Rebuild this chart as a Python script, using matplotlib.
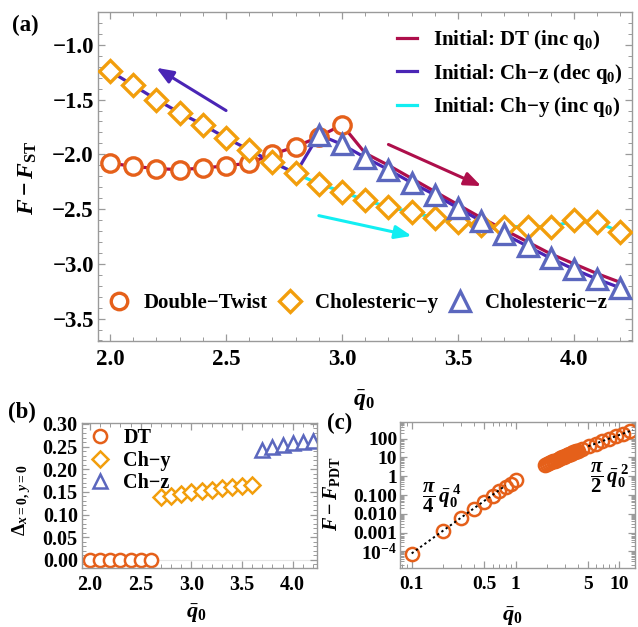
import numpy as np
import matplotlib
matplotlib.use("Agg")
import matplotlib.pyplot as plt
from matplotlib.ticker import MultipleLocator, FixedLocator, FixedFormatter, NullFormatter, LogLocator

plt.rcParams['font.family'] = ['Liberation Serif', 'DejaVu Serif']
plt.rcParams['font.weight'] = 'bold'
plt.rcParams['mathtext.fontset'] = 'custom'
plt.rcParams['mathtext.rm'] = 'Liberation Serif:bold'
plt.rcParams['mathtext.it'] = 'Liberation Serif:italic:bold'
plt.rcParams['mathtext.bf'] = 'Liberation Serif:bold'
plt.rcParams['mathtext.fallback'] = 'stix'

# ---------------- data: panel (a) ----------------
q_dt = [2.0, 2.1, 2.2, 2.3, 2.4, 2.5, 2.6, 2.7, 2.8, 2.9, 3.0]
f_dt = [-2.08, -2.11, -2.13, -2.14, -2.125, -2.105, -2.08, -2.00, -1.93, -1.84, -1.73]

q_chy = [2.0, 2.1, 2.2, 2.3, 2.4, 2.5, 2.6, 2.7, 2.8, 2.9, 3.0, 3.1, 3.2, 3.3,
         3.4, 3.5, 3.6, 3.7, 3.8, 3.9, 4.0, 4.1, 4.2]
f_chy = [-1.24, -1.37, -1.50, -1.62, -1.73, -1.85, -1.96, -2.07, -2.175, -2.27,
         -2.34, -2.42, -2.48, -2.53, -2.58, -2.62, -2.65, -2.66, -2.66, -2.66,
         -2.60, -2.62, -2.71]

q_chz = [2.9, 3.0, 3.1, 3.2, 3.3, 3.4, 3.5, 3.6, 3.7, 3.8, 3.9, 4.0, 4.1, 4.2]
f_chz = [-1.82, -1.91, -2.03, -2.14, -2.26, -2.37, -2.49, -2.61, -2.73, -2.84,
         -2.95, -3.05, -3.14, -3.22]

# hysteresis paths
q_path_dt = [2.0, 2.1, 2.2, 2.3, 2.4, 2.5, 2.6, 2.7, 2.8, 2.9, 3.0, 3.1, 3.2,
             3.3, 3.4, 3.5, 3.6, 3.7, 3.8, 3.9, 4.0, 4.1, 4.2]
f_path_dt = [-2.08, -2.11, -2.13, -2.14, -2.125, -2.105, -2.08, -2.00, -1.93,
             -1.84, -1.73, -1.99, -2.10, -2.22, -2.34, -2.46, -2.58, -2.69,
             -2.80, -2.91, -3.00, -3.09, -3.17]
q_path_chz = [2.0, 2.1, 2.2, 2.3, 2.4, 2.5, 2.6, 2.7, 2.8, 2.9, 3.0, 3.1, 3.2,
              3.3, 3.4, 3.5, 3.6, 3.7, 3.8, 3.9, 4.0, 4.1, 4.2]
f_path_chz = [-1.24, -1.37, -1.50, -1.62, -1.73, -1.85, -1.96, -2.07, -2.175,
              -1.82, -1.91, -2.03, -2.14, -2.26, -2.37, -2.49, -2.61, -2.73,
              -2.84, -2.95, -3.05, -3.14, -3.22]
q_path_chy = [2.7, 2.8, 2.9, 3.0, 3.1, 3.2, 3.3, 3.4, 3.5, 3.6, 3.7, 3.8, 3.9,
              4.0, 4.1, 4.2]
f_path_chy = [-2.07, -2.175, -2.27, -2.34, -2.42, -2.48, -2.53, -2.58, -2.62,
              -2.65, -2.66, -2.66, -2.66, -2.61, -2.62, -2.71]

legend_lines = ['Initial: DT (inc q$_0$)', 'Initial: Ch\u2212z (dec q$_0$)',
                'Initial: Ch\u2212y (inc q$_0$)']
legend_marks = ['Double\u2212Twist', 'Cholesteric\u2212y', 'Cholesteric\u2212z']

# arrows (tail -> head) in data coords
arrows = [((2.50, -1.60), (2.20, -1.21)),
          ((3.20, -1.91), (3.60, -2.29)),
          ((2.90, -2.56), (3.30, -2.745))]

# ---------------- data: panel (b) ----------------
qb_dt = [2.0, 2.1, 2.2, 2.3, 2.4, 2.5, 2.6]
db_dt = [0.0, 0.0, 0.0, 0.0, 0.0, 0.0, 0.0]
qb_chy = [2.7, 2.8, 2.9, 3.0, 3.1, 3.2, 3.3, 3.4, 3.5, 3.6]
db_chy = [0.139, 0.142, 0.146, 0.149, 0.152, 0.155, 0.158, 0.160, 0.162, 0.166]
qb_chz = [3.7, 3.8, 3.9, 4.0, 4.1, 4.2]
db_chz = [0.243, 0.250, 0.254, 0.257, 0.260, 0.262]
legend_b = ['DT', 'Ch\u2212y', 'Ch\u2212z']

# ---------------- data: panel (c) ----------------
qc_small = [0.1, 0.2, 0.3, 0.4, 0.5, 0.6, 0.7, 0.8, 0.9, 1.0]
fc_small = [7.0e-5, 1.2e-3, 6.0e-3, 0.019, 0.045, 0.09, 0.16, 0.26, 0.40, 0.60]
qc_large = [1.9, 2.0, 2.1, 2.2, 2.3, 2.4, 2.5, 2.6, 2.7, 2.8, 2.9, 3.0, 3.1,
            3.2, 3.3, 3.4, 3.5, 3.6, 3.7, 3.8, 3.9, 4.0, 4.4, 5.1, 5.9, 6.8,
            7.9, 9.2, 10.8, 12.6]
fc_large = [3.7, 4.2, 4.8, 5.4, 6.1, 6.8, 7.6, 8.4, 9.2, 10.1, 11.0, 11.9,
            12.8, 13.8, 14.9, 16.0, 17.1, 18.3, 19.4, 20.6, 21.8, 23.1, 28.0,
            38.0, 52.0, 70.0, 95.0, 130.0, 180.0, 247.0]
asym_small_q = [0.1, 0.8]
asym_small_f = [7.85e-5, 0.32]
asym_large_q = [5.0, 13.5]
asym_large_f = [39.0, 286.0]

# ---------------- colours ----------------
C_DT = '#E5601A'
C_CHY = '#F29E0C'
C_CHZ = '#5B67BE'
L_DT = '#AE0F4B'
L_CHZ = '#4A25B5'
L_CHY = '#12EEF2'
SPINE = '#9A9A9A'

W, H = 638, 627
fig = plt.figure(figsize=(W / 100, H / 100), dpi=100)


def px_axes(l, t, r, b):
    return fig.add_axes([l / W, 1 - b / H, (r - l) / W, (b - t) / H])


def px_text(x, y, s, **kw):
    return fig.text(x / W, 1 - y / H, s, ha='center', va='center', **kw)


def style(ax, size):
    for s in ax.spines.values():
        s.set_color(SPINE)
        s.set_linewidth(1.0)
    ax.tick_params(which='both', direction='in', top=True, right=True,
                   color=SPINE, labelsize=size)
    ax.tick_params(which='major', length=5, width=0.9)
    ax.tick_params(which='minor', length=2.8, width=0.7)


# ---------------- panel (a) ----------------
ax = px_axes(98, 12, 632, 341)
style(ax, 16.5)
ax.tick_params(axis='x', pad=6)
ax.tick_params(axis='y', pad=3)
h1, = ax.plot(q_path_dt, f_path_dt, color=L_DT, lw=2.3, zorder=2)
h2, = ax.plot(q_path_chz, f_path_chz, color=L_CHZ, lw=2.3, zorder=2)
h3, = ax.plot(q_path_chy, f_path_chy, color=L_CHY, lw=2.3, zorder=1.9)
m1, = ax.plot(q_dt, f_dt, 'o', ms=12.5, mfc='white', mec=C_DT, mew=2.4, ls='none', zorder=3)
m2, = ax.plot(q_chy, f_chy, 'D', ms=11.5, mfc='white', mec=C_CHY, mew=2.4, ls='none', zorder=3)
m3, = ax.plot(q_chz, f_chz, '^', ms=14.5, mfc='white', mec=C_CHZ, mew=2.4, ls='none', zorder=3)
for (t, hd), c in zip(arrows, [L_CHZ, L_DT, L_CHY]):
    ax.annotate('', xy=hd, xytext=t,
                arrowprops=dict(arrowstyle='-|>,head_length=1.0,head_width=0.4',
                                color=c, lw=2.2, shrinkA=0, shrinkB=0))
ax.set_xlim(1.948, 4.25)
ax.set_ylim(-3.705, -0.70)
ax.xaxis.set_major_locator(MultipleLocator(0.5))
ax.xaxis.set_minor_locator(MultipleLocator(0.1))
ax.yaxis.set_major_locator(MultipleLocator(0.5))
ax.yaxis.set_minor_locator(MultipleLocator(0.1))
ax.xaxis.set_major_formatter(plt.FormatStrFormatter('%.1f'))
ax.yaxis.set_major_formatter(plt.FuncFormatter(lambda v, p: ('%.1f' % v).replace('-', '\u2212')))
px_text(27.5, 178, r'$F-F_{\mathrm{ST}}$', fontsize=17, rotation=90)
px_text(364, 401, r'$\bar{q}_0$', fontsize=17)
leg1 = ax.legend([h1, h2, h3], legend_lines, loc='upper right',
                 bbox_to_anchor=(0.998, 0.976), frameon=False, fontsize=15,
                 handlelength=0.96, handletextpad=0.77, labelspacing=0.45,
                 borderaxespad=0)
ax.add_artist(leg1)
ax.legend([m1, m2, m3], legend_marks, loc='center left',
          bbox_to_anchor=(0.004, 0.115), frameon=False, fontsize=15, ncol=3,
          handlelength=1.0, handletextpad=0.7, columnspacing=0.55,
          borderaxespad=0, markerscale=0.95)
px_text(25, 25, '(a)', fontsize=16.5)

# ---------------- panel (b) ----------------
bx = px_axes(82, 423, 317, 568)
style(bx, 14.5)
bx.tick_params(axis='x', pad=5)
bx.tick_params(axis='y', pad=3)
bx.axhline(0, color='#E6E6E6', lw=0.8, zorder=0)
b1, = bx.plot(qb_dt, db_dt, 'o', ms=9.5, mfc='white', mec=C_DT, mew=1.8, ls='none')
b2, = bx.plot(qb_chy, db_chy, 'D', ms=8.5, mfc='white', mec=C_CHY, mew=1.8, ls='none')
b3, = bx.plot(qb_chz, db_chz, '^', ms=10, mfc='white', mec=C_CHZ, mew=1.8, ls='none')
bx.set_xlim(1.92, 4.24)
bx.set_ylim(-0.018, 0.302)
bx.xaxis.set_major_locator(MultipleLocator(0.5))
bx.xaxis.set_minor_locator(MultipleLocator(0.1))
bx.yaxis.set_major_locator(MultipleLocator(0.05))
bx.yaxis.set_minor_locator(MultipleLocator(0.01))
bx.xaxis.set_major_formatter(plt.FormatStrFormatter('%.1f'))
bx.yaxis.set_major_formatter(plt.FormatStrFormatter('%.2f'))
px_text(22, 500, r'$\Delta_{x=0,\,y=0}$', fontsize=14, rotation=90)
px_text(196, 614, r'$\bar{q}_0$', fontsize=16)
bx.legend([b1, b2, b3], legend_b, loc='upper left', bbox_to_anchor=(0.0, 1.02),
          frameon=False, fontsize=14.5, handlelength=1.0, handletextpad=0.65,
          labelspacing=0.12, borderaxespad=0)
px_text(22, 412, '(b)', fontsize=16.5)

# ---------------- panel (c) ----------------
cx = px_axes(400, 422, 635, 568)
style(cx, 14)
cx.tick_params(axis='x', pad=6)
cx.tick_params(axis='y', pad=2)
cx.set_xscale('log')
cx.set_yscale('log')
cx.plot(asym_small_q, asym_small_f, ls=(0, (1.2, 1.5)), color='black', lw=1.4, zorder=3)
cx.plot(asym_large_q, asym_large_f, ls=(0, (1.2, 1.5)), color='black', lw=1.4, zorder=3)
cx.plot(qc_small, fc_small, 'o', ms=9.5, mfc='none', mec=C_DT, mew=1.8, ls='none', zorder=2)
cx.plot(qc_large, fc_large, 'o', ms=9.5, mfc='none', mec=C_DT, mew=1.8, ls='none', zorder=2)
cx.set_xlim(0.0772, 14.1)
cx.set_ylim(10 ** -4.88, 10 ** 2.88)
cx.xaxis.set_major_locator(FixedLocator([0.1, 0.5, 1, 5, 10]))
cx.xaxis.set_major_formatter(FixedFormatter(['0.1', '0.5', '1', '5', '10']))
cx.xaxis.set_minor_locator(LogLocator(base=10, subs=np.arange(1, 10) * 1.0))
cx.xaxis.set_minor_formatter(NullFormatter())
cx.yaxis.set_major_locator(FixedLocator([1e-4, 1e-3, 1e-2, 1e-1, 1, 10, 100]))
cx.yaxis.set_major_formatter(FixedFormatter(['$10^{\u22124}$', '0.001', '0.010', '0.100', '1', '10', '100']))
cx.yaxis.set_minor_locator(LogLocator(base=10, subs=np.arange(2, 10) * 1.0, numticks=20))
cx.yaxis.set_minor_formatter(NullFormatter())
px_text(331, 494, r'$F-F_{\mathrm{PDT}}$', fontsize=14.5, rotation=90)
px_text(512, 617, r'$\bar{q}_0$', fontsize=16)
cx.text(0.18, 0.48, r'$\dfrac{\pi}{4}\,\bar{q}_0^{\;4}$', transform=cx.transAxes,
        fontsize=15, ha='center', va='center')
cx.text(0.89, 0.62, r'$\dfrac{\pi}{2}\,\bar{q}_0^{\;2}$', transform=cx.transAxes,
        fontsize=15, ha='center', va='center')
px_text(340, 423, '(c)', fontsize=16.5)

fig.savefig('out.png', dpi=100)
